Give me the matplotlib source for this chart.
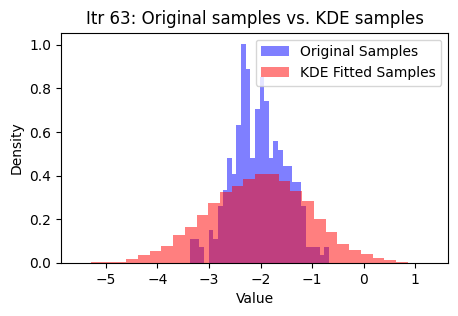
import numpy as np
import matplotlib
matplotlib.use("Agg")
import matplotlib.pyplot as plt

# original samples: 30 bins, counts (300 samples)
orig_edges = np.linspace(-3.366, -0.672, 31)
orig_counts = [3, 3, 2, 0, 4, 3, 7, 9, 13, 11, 17, 27, 24, 13, 19,
               23, 20, 13, 15, 14, 12, 12, 10, 10, 7, 2, 2, 2, 1, 2]

# KDE fitted samples: 27 bins, densities
kde_edges = np.linspace(-5.29, 0.855, 28)
kde_density = [0.005, 0.005, 0.005, 0.016, 0.034, 0.053, 0.076, 0.126, 0.164,
               0.219, 0.274, 0.326, 0.352, 0.383, 0.407, 0.407, 0.377, 0.329,
               0.283, 0.203, 0.139, 0.085, 0.057, 0.039, 0.020, 0.011, 0.005]

orig_centers = (orig_edges[:-1] + orig_edges[1:]) / 2
kde_centers = (kde_edges[:-1] + kde_edges[1:]) / 2

fig = plt.figure(figsize=(4.58, 3.16), dpi=100)
ax = fig.add_axes([0.1332, 0.1684, 0.8456, 0.7282])

ax.hist(orig_centers, bins=orig_edges, weights=orig_counts, density=True,
        color='blue', alpha=0.5, label='Original Samples')
ax.hist(kde_centers, bins=kde_edges, weights=kde_density,
        color='red', alpha=0.5, label='KDE Fitted Samples')

ax.set_xlim(-5.87, 1.64)
ax.set_ylim(0, 1.056)
ax.set_title('Itr 63: Original samples vs. KDE samples')
ax.set_xlabel('Value')
ax.set_ylabel('Density')
ax.legend(loc='upper right')

fig.savefig('out.png', dpi=100)
